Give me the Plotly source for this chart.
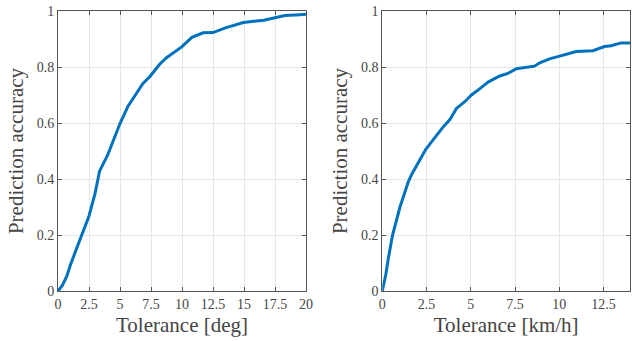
import plotly.graph_objects as go

deg_tol = [0, 0.35, 0.7, 1.0, 1.5, 2.0, 2.5, 3.0, 3.35, 4.0, 4.55, 5.0, 5.65, 6.1, 6.85, 7.4, 8.2, 8.75, 9.95, 10.8, 11.7, 12.5, 13.5, 14.95, 15.75, 16.6, 17.4, 18.3, 19.2, 20.0]
deg_acc = [0, 0.02, 0.052, 0.093, 0.152, 0.21, 0.268, 0.35, 0.428, 0.485, 0.55, 0.598, 0.66, 0.69, 0.741, 0.765, 0.81, 0.833, 0.871, 0.906, 0.922, 0.923, 0.94, 0.959, 0.963, 0.967, 0.975, 0.984, 0.986, 0.988]

spd_tol = [0, 0.2, 0.35, 0.58, 1.0, 1.47, 1.65, 2.12, 2.46, 2.97, 3.44, 3.82, 4.19, 4.66, 5.04, 5.5, 5.98, 6.64, 7.1, 7.58, 8.1, 8.6, 8.9, 9.45, 9.92, 10.49, 10.96, 11.9, 12.56, 12.93, 13.5, 14.0]
spd_acc = [0, 0.06, 0.12, 0.2, 0.30, 0.39, 0.415, 0.465, 0.506, 0.548, 0.586, 0.612, 0.652, 0.676, 0.70, 0.722, 0.746, 0.768, 0.777, 0.794, 0.799, 0.803, 0.815, 0.829, 0.837, 0.848, 0.855, 0.858, 0.873, 0.876, 0.886, 0.886]

deg_ticks = [0, 2.5, 5, 7.5, 10, 12.5, 15, 17.5, 20]
spd_ticks = [0, 2.5, 5, 7.5, 10, 12.5]
y_ticks = [0, 0.2, 0.4, 0.6, 0.8, 1]

W, H = 632, 341
fig = go.Figure()
line = dict(color="#0072BD", width=3)
fig.add_trace(go.Scatter(x=deg_tol, y=deg_acc, mode="lines", line=line, xaxis="x", yaxis="y",
                         showlegend=False, hoverinfo="skip"))
fig.add_trace(go.Scatter(x=spd_tol, y=spd_acc, mode="lines", line=line, xaxis="x2", yaxis="y2",
                         showlegend=False, hoverinfo="skip"))

font_family = "Liberation Serif, Times New Roman, serif"
txt = "#454545"
title_font = dict(family=font_family, size=21, color=txt)
ax_common = dict(showgrid=True, gridcolor="#e6e6e6", gridwidth=1, showline=True, linecolor="#555555",
                 linewidth=1, mirror="ticks", ticks="inside", ticklen=4, tickcolor="#555555",
                 tickfont=dict(family=font_family, size=14, color=txt), zeroline=False, automargin=False,
                 ticklabeloverflow="allow")

def px_x(p):
    return p / W

def px_y(p):
    return 1 - p / H

ydom = [px_y(291), px_y(11)]
fig.update_layout(
    width=W, height=H, margin=dict(l=0, r=0, t=0, b=0, autoexpand=False),
    paper_bgcolor="white", plot_bgcolor="white",
    font=dict(family=font_family, color=txt),
    hovermode=False,
    xaxis=dict(ax_common, domain=[px_x(58), px_x(306)], range=[0, 20], tickvals=deg_ticks,
               ticktext=[f"{t:g}" for t in deg_ticks],
               title=dict(text="Tolerance [deg]", font=title_font, standoff=6)),
    yaxis=dict(ax_common, domain=ydom, range=[0, 1], tickvals=y_ticks, ticktext=[f"{t:g}" for t in y_ticks],
               title=dict(text="Prediction accuracy", font=title_font, standoff=7)),
    xaxis2=dict(ax_common, domain=[px_x(382.3), px_x(630)], range=[0, 14], tickvals=spd_ticks,
                ticktext=[f"{t:g}" for t in spd_ticks], anchor="y2",
                title=dict(text="Tolerance [km/h]", font=title_font, standoff=6)),
    yaxis2=dict(ax_common, domain=ydom, range=[0, 1], tickvals=y_ticks, ticktext=[f"{t:g}" for t in y_ticks],
                anchor="x2",
                title=dict(text="Prediction accuracy", font=title_font, standoff=7)),
)
fig.write_html("out.html", config={"displayModeBar": False, "staticPlot": True},
               post_script="document.body.style.margin='0px';document.body.style.overflow='hidden';")
